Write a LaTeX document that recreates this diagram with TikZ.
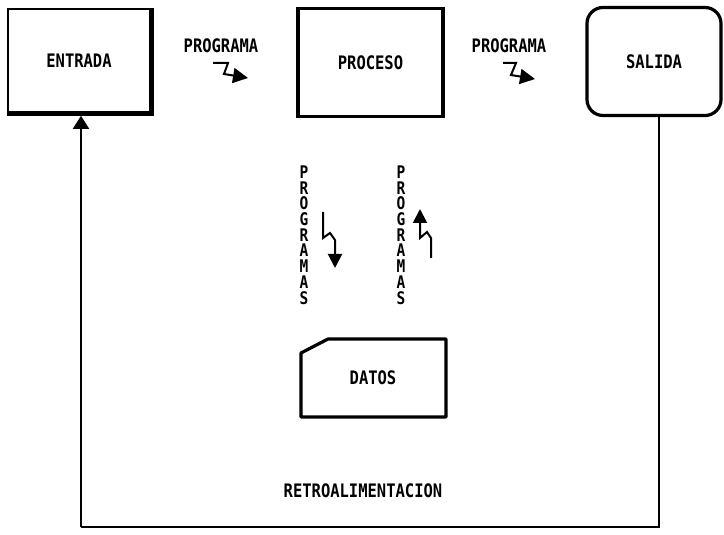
\documentclass[tikz,border=0pt]{standalone}
\usepackage{fontspec}
\setmonofont{DejaVu Sans Mono}
\usetikzlibrary{arrows.meta}
\newcommand{\tallt}[1]{\scalebox{1}[1.2]{#1}}
\tikzset{
  lbl/.style={font=\ttfamily\bfseries\fontsize{15.5}{15.5}\selectfont, inner sep=0pt},
  vlbl/.style={font=\ttfamily\bfseries\fontsize{14.5}{13.1}\selectfont, inner sep=0pt, align=center, yscale=1.2, transform shape},
  boxthin/.style={draw, line width=1.6pt, minimum width=142pt, minimum height=103pt, inner sep=0pt},
  boxthick/.style={draw, line width=3.2pt, inner sep=0pt},
  zig/.style={line width=2pt, -{Triangle[width=15pt,length=15pt]}},
  fb/.style={line width=1.8pt}
}
\begin{document}
\begin{tikzpicture}[x=1pt,y=1pt]
\useasboundingbox (0,0) rectangle (724,535);
% main boxes
\node[boxthin, lbl] (e) at (79,474.5) {\tallt{ENTRADA}};
\draw[line width=4pt] ([xshift=1pt]e.north east) -- ([xshift=1pt,yshift=-1.5pt]e.south east) -- ([yshift=-1.5pt]e.south west);
\node[boxthick, lbl, minimum width=145pt, minimum height=108pt] (p) at (370.5,472.5) {\tallt{PROCESO}};
\node[boxthick, lbl, minimum width=134pt, minimum height=108pt, rounded corners=16pt] (s) at (654,473.5) {\tallt{SALIDA}};
% DATOS
\coordinate (d1) at (301,182);
\coordinate (d2) at (328,196);
\coordinate (d3) at (446,196);
\coordinate (d4) at (446,118);
\coordinate (d5) at (301,118);
\draw[line width=3.2pt, line join=round] (d1) -- (d2) -- (d3) -- (d4) -- (d5) -- cycle;
\node[lbl] (d) at (373,157) {\tallt{DATOS}};
% horizontal labels and zig arrows
\node[lbl] (pg1) at (221,489) {\tallt{PROGRAMA}};
\node[lbl] (pg2) at (509,489) {\tallt{PROGRAMA}};
\coordinate (a1s) at (213,472);
\coordinate (a1e) at (248,457);
\draw[zig] (a1s) -- (228,472) -- (224,461) -- (a1e);
\coordinate (a2s) at (503,472);
\coordinate (a2e) at (535,456);
\draw[zig] (a2s) -- (516,472) -- (511,460) -- (a2e);
% vertical labels
\node[vlbl] (v1) at (304,300) {P\\R\\O\\G\\R\\A\\M\\A\\S};
\node[vlbl] (v2) at (401,300) {P\\R\\O\\G\\R\\A\\M\\A\\S};
% vertical zig arrows
\coordinate (b1s) at (323,323);
\coordinate (b1e) at (335,267);
\draw[zig, -{Triangle[width=14pt,length=14pt]}] (b1s) -- (323,297) -- (330,302) -- (335,295) -- (b1e);
\coordinate (b2s) at (431,277);
\coordinate (b2e) at (420,326);
\draw[zig, -{Triangle[width=14pt,length=14pt]}] (b2s) -- (431,297) -- (427,303) -- (420,297) -- (b2e);
% feedback loop
\coordinate (fbR) at (659,8);
\coordinate (fbL) at (81,8);
\draw[fb] (s.south -| fbR) -- (fbR) -- (fbL);
\draw[fb, -{Triangle[width=16pt,length=13pt]}] (fbL) -- ([yshift=-3pt]e.south -| fbL);
\node[lbl] (r) at (363,44) {\tallt{RETROALIMENTACION}};
\end{tikzpicture}
\end{document}
